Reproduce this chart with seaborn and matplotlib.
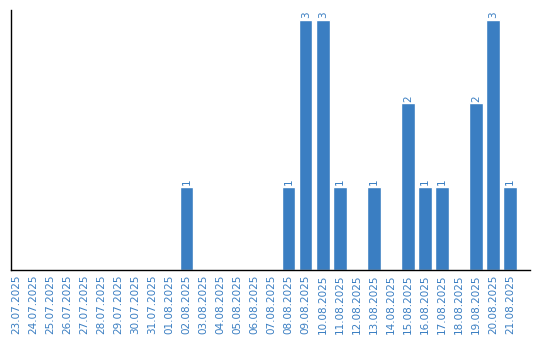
import matplotlib
matplotlib.use("Agg")
import matplotlib.pyplot as plt
import seaborn as sns
import pandas as pd

dates = ["23.07.2025", "24.07.2025", "25.07.2025", "26.07.2025", "27.07.2025",
         "28.07.2025", "29.07.2025", "30.07.2025", "31.07.2025", "01.08.2025",
         "02.08.2025", "03.08.2025", "04.08.2025", "05.08.2025", "06.08.2025",
         "07.08.2025", "08.08.2025", "09.08.2025", "10.08.2025", "11.08.2025",
         "12.08.2025", "13.08.2025", "14.08.2025", "15.08.2025", "16.08.2025",
         "17.08.2025", "18.08.2025", "19.08.2025", "20.08.2025", "21.08.2025"]
counts = [0, 0, 0, 0, 0, 0, 0, 0, 0, 0,
          1, 0, 0, 0, 0, 0, 1, 3, 3, 1,
          0, 1, 0, 2, 1, 1, 0, 2, 3, 1]

df = pd.DataFrame({"date": dates, "count": counts})

sns.set_style("white")
color = "#3a7ec2"
fig = plt.figure(figsize=(5.4, 3.4), dpi=100)
ax = fig.add_axes([11/540, 70/340, 519/540, 260/340])
sns.barplot(data=df, x="date", y="count", color=color, width=0.8, ax=ax,
            saturation=1)
ax.set_xlim(-0.3, 30.17)
ax.set_ylim(0, 3.12)
ax.set_xlabel("")
ax.set_ylabel("")
ax.set_yticks([])
ax.tick_params(axis="x", length=0, pad=3, labelsize=7.5, labelcolor=color)
plt.setp(ax.get_xticklabels(), rotation=90)
for s in ["top", "right"]:
    ax.spines[s].set_visible(False)
for s in ["left", "bottom"]:
    ax.spines[s].set_color("black")
    ax.spines[s].set_linewidth(1)
for i, v in enumerate(counts):
    if v > 0:
        ax.text(i, v + 0.02, str(v), rotation=90, ha="center", va="bottom",
                fontsize=7.5, color=color)
fig.savefig("out.png", dpi=100)
